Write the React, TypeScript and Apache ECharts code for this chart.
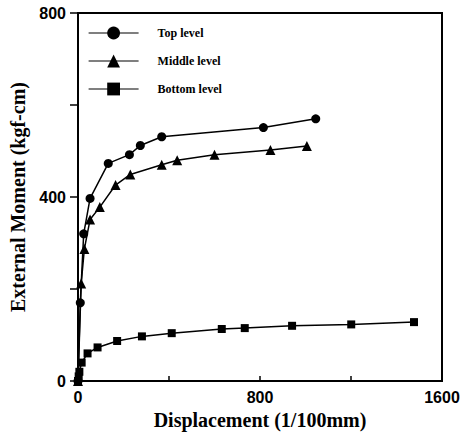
import React, { useEffect, useRef } from "react";
import * as echarts from "echarts";

const seriesNames = ["Top level", "Middle level", "Bottom level"];
const topLevel: [number, number][] = [
  [0, 0], [10, 170], [25, 320], [53, 397], [133, 473], [226, 492], [274, 512], [368, 531], [815, 551], [1045, 570],
];
const middleLevel: [number, number][] = [
  [0, 0], [14, 212], [28, 287], [53, 351], [96, 378], [165, 426], [230, 449], [368, 470], [436, 480], [600, 492], [846, 502], [1006, 511],
];
const bottomLevel: [number, number][] = [
  [0, 0], [3, 10], [6, 20], [16, 40], [42, 60], [86, 73], [172, 87], [281, 97], [412, 104], [632, 113], [733, 115], [941, 120], [1201, 123], [1477, 128],
];
const xLabels = [0, 800, 1600];
const yLabels = [0, 400, 800];

export default function App() {
  const ref = useRef<HTMLDivElement>(null);
  useEffect(() => {
    document.body.style.margin = "0";
    const chart = echarts.init(ref.current!, null, { renderer: "svg" });
    const serif = "'Liberation Serif', 'DejaVu Serif', serif";
    const sans = "'Liberation Sans', Arial, sans-serif";
    const mk = (name: string, data: [number, number][], symbol: string, size: number) => ({
      name,
      type: "line",
      data,
      symbol,
      symbolSize: size,
      lineStyle: { color: "#000", width: 1.5 },
      itemStyle: { color: "#000" },
    });
    chart.setOption({
      animation: false,
      backgroundColor: "#fff",
      grid: {
        left: 75, right: 25, top: 13, bottom: 55,
        show: true, borderColor: "#000", borderWidth: 2,
      },
      legend: {
        orient: "vertical",
        left: 83,
        top: 20,
        itemWidth: 50,
        itemHeight: 16,
        itemGap: 12,
        lineStyle: { width: 1.2 },
        textStyle: {
          fontFamily: serif, fontWeight: "bold", fontSize: 12, color: "#000",
          padding: [0, 0, 0, 14], lineHeight: 16,
        },
        data: seriesNames,
      },
      xAxis: {
        type: "value",
        min: 0, max: 1600, interval: 400,
        name: "Displacement (1/100mm)",
        nameLocation: "middle",
        nameGap: 28,
        nameTextStyle: { fontFamily: serif, fontWeight: "bold", fontSize: 20, color: "#000" },
        axisLine: { lineStyle: { color: "#000", width: 2 } },
        axisTick: { inside: true, length: 5, lineStyle: { color: "#000", width: 1.5 } },
        splitLine: { show: false },
        axisLabel: {
          margin: 8,
          fontFamily: sans, fontWeight: "bold", fontSize: 16, color: "#000",
          formatter: (v: number) => (xLabels.includes(v) ? String(v) : ""),
        },
      },
      yAxis: {
        type: "value",
        min: 0, max: 800, interval: 200,
        name: "External Moment (kgf-cm)",
        nameLocation: "middle",
        nameGap: 50,
        nameTextStyle: { fontFamily: serif, fontWeight: "bold", fontSize: 20, color: "#000" },
        axisLine: { lineStyle: { color: "#000", width: 2 } },
        axisTick: { inside: false, length: 8, lineStyle: { color: "#000", width: 1.5 } },
        splitLine: { show: false },
        axisLabel: {
          margin: 12,
          fontFamily: sans, fontWeight: "bold", fontSize: 16, color: "#000",
          formatter: (v: number) => (yLabels.includes(v) ? String(v) : ""),
        },
      },
      series: [
        mk(seriesNames[0], topLevel, "circle", 9),
        mk(seriesNames[1], middleLevel, "triangle", 10),
        mk(seriesNames[2], bottomLevel, "rect", 8),
      ],
    });
    return () => chart.dispose();
  }, []);
  return <div ref={ref} style={{ width: 467, height: 436 }} />;
}
